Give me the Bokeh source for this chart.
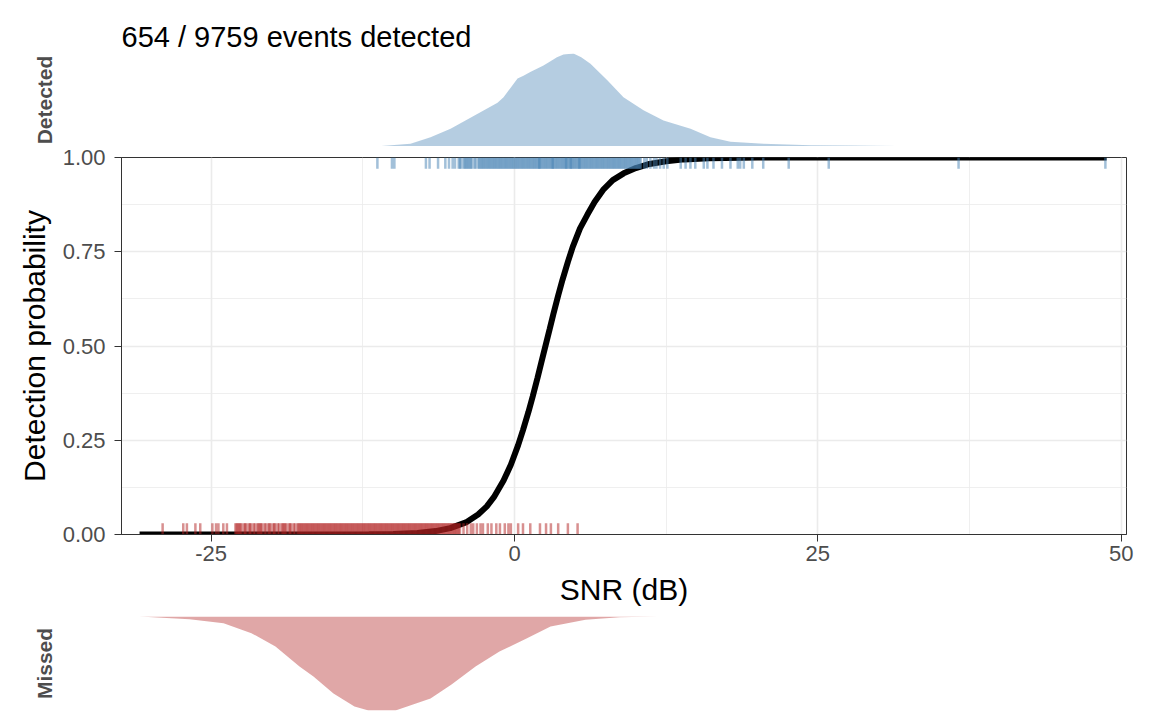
from bokeh.plotting import figure
from bokeh.layouts import column
from bokeh.models import Range1d, FixedTicker
from bokeh.embed import file_html
from bokeh.resources import INLINE

# ---------------- data ----------------
TITLE = "654 / 9759 events detected"
X_TICKS = [-25, 0, 25, 50]
X_TICK_LABELS = ["-25", "0", "25", "50"]
Y_TICKS = [0.0, 0.25, 0.5, 0.75, 1.0]
Y_TICK_LABELS = ["0.00", "0.25", "0.50", "0.75", "1.00"]

# fitted detection-probability curve
curve_x = [-30.9, -25, -20, -15, -12, -10, -8, -6.5, -5.3, -4.0, -3.0, -2.3, -1.7,
           -0.9, -0.3, 0.3, 0.7, 1.15, 1.5, 1.9, 2.2, 2.55, 2.9, 3.2, 3.6, 3.95,
           4.4, 4.8, 5.4, 6.0, 6.6, 7.3, 8.1, 9.0, 10.0, 11.0, 12.5, 14.0, 16.0,
           20.0, 30.0, 40.0, 48.8]
curve_y = [0.0, 0.0, 0.0, 0.0001, 0.0005, 0.0015, 0.004, 0.009, 0.017, 0.032, 0.053,
           0.074, 0.099, 0.143, 0.185, 0.237, 0.277, 0.325, 0.366, 0.416, 0.455, 0.5,
           0.545, 0.584, 0.634, 0.675, 0.723, 0.763, 0.812, 0.848, 0.882, 0.914,
           0.940, 0.958, 0.972, 0.982, 0.990, 0.995, 0.998, 1.0, 1.0, 1.0, 1.0]

# SNR of detected events (top rug)
detected_snr = [-11.3, -10.1, -9.9, -7.3, -7.0, -6.3, -5.7, -5.4, -5.1, -4.9,
                -4.6, -4.5, -4.4, -4.2, -4.1, -4.0, -3.9, -3.8, -3.7, -3.6, -3.5,
                -3.3, -3.2, -3.0, -2.9,
                -2.8, -2.7, -2.6, -2.5, -2.4, -2.3, -2.2, -2.1, -2.0, -1.9, -1.8,
                -1.7, -1.6, -1.5, -1.4, -1.3, -1.2, -1.1, -1.0, -0.9, -0.8, -0.7,
                -0.6, -0.5, -0.4, -0.3, -0.2, -0.1, 0.0, 0.1, 0.2, 0.3, 0.4, 0.5,
                0.6, 0.7, 0.8, 0.9, 1.0, 1.1, 1.2, 1.3, 1.4, 1.5, 1.6, 1.7, 1.8, 1.9,
                2.0, 2.05, 2.1, 2.2, 2.3, 2.4, 2.5, 2.6, 2.7, 2.8, 2.9, 3.0, 3.1,
                3.15, 3.2, 3.3, 3.4, 3.5, 3.6, 3.7, 3.8, 3.9, 4.0, 4.1, 4.2, 4.25,
                4.3, 4.4, 4.5, 4.6, 4.65, 4.7, 4.8, 4.9, 5.0, 5.1, 5.2, 5.3, 5.35,
                5.4, 5.5, 5.6, 5.7, 5.8, 5.9, 6.0, 6.1, 6.2, 6.3, 6.4, 6.5, 6.6, 6.7,
                6.8, 6.9, 7.0, 7.1, 7.2, 7.3, 7.4, 7.5, 7.6, 7.7, 7.8, 7.9, 8.0, 8.1,
                8.2, 8.3, 8.4, 8.5, 8.6, 8.7, 8.8, 8.9, 9.0, 9.1, 9.2, 9.3, 9.4, 9.5,
                9.6, 9.7, 9.8, 9.9, 10.0, 10.1, 10.2, 10.3, 10.4,
                10.7, 10.9, 11.2, 11.5, 11.7, 12.0, 12.3, 12.6,
                13.7, 14.1, 14.5, 14.9, 15.6, 15.9, 16.4, 17.1, 17.8, 18.4, 18.6, 18.9,
                19.6, 20.5, 22.6, 25.9, 36.6, 48.7]

# SNR of missed events (bottom rug)
missed_snr = [-29.0, -27.3, -27.0, -26.3, -25.9, -24.9, -24.6, -24.4, -24.0, -23.7,
              -23.0, -22.9, -22.8, -22.7, -22.6, -22.5, -22.3, -22.2, -22.1, -21.9,
              -21.8, -21.7, -21.5, -21.4, -21.2, -21.1, -21.0, -20.9, -20.8, -20.6,
              -20.5, -20.3, -20.2, -20.1, -19.9, -19.8, -19.7, -19.5, -19.4, -19.2,
              -19.1, -19.0, -18.9, -18.8, -18.6, -18.5, -18.4, -18.2, -18.1, -17.9,
              -17.8, -17.7,
              -17.6, -17.5, -17.4, -17.3, -17.2, -17.1, -17.0, -16.9, -16.8, -16.7,
              -16.6, -16.5, -16.4, -16.3, -16.2, -16.1, -16.0, -15.9, -15.8, -15.7,
              -15.6, -15.5, -15.4, -15.3, -15.2, -15.1, -15.0, -14.9, -14.8, -14.7,
              -14.6, -14.5, -14.4, -14.3, -14.2, -14.1, -14.0, -13.9, -13.8, -13.7,
              -13.6, -13.5, -13.4, -13.3, -13.2, -13.1, -13.0, -12.9, -12.8, -12.7,
              -12.6, -12.5, -12.4, -12.3, -12.2, -12.1, -12.0, -11.9, -11.8, -11.7,
              -11.6, -11.5, -11.4, -11.3, -11.2, -11.1, -11.0, -10.9, -10.8, -10.7,
              -10.6, -10.5, -10.4, -10.3, -10.2, -10.1, -10.0, -9.9, -9.8, -9.7,
              -9.6, -9.5, -9.4, -9.3, -9.2, -9.1, -9.0, -8.9, -8.8, -8.7, -8.6, -8.5,
              -8.4, -8.3, -8.2, -8.1, -8.0, -7.9, -7.8, -7.7, -7.6, -7.5, -7.4, -7.3,
              -7.2, -7.1, -7.0, -6.9, -6.8, -6.7, -6.6, -6.5, -6.4, -6.3, -6.2, -6.1,
              -6.0, -5.9, -5.8, -5.7, -5.6, -5.5, -5.4, -5.3, -5.2, -5.1, -5.0, -4.9,
              -4.8, -4.7, -4.6, -4.5,
              -4.2, -3.9, -3.6, -3.4, -3.1, -2.8, -2.6, -2.2, -1.9, -1.5, -1.2, -0.8,
              -0.5, -0.3,
              0.3, 0.7, 1.3, 2.1, 2.6, 3.0, 3.6, 4.4, 5.2]

# density of detected events (top margin)
det_dens_x = [-13.9, -11.0, -8.57, -6.92, -5.27, -3.63, -1.40, -0.9, -0.33, 0.25, 0.74,
              1.3, 2.39, 3.0, 3.5, 4.04, 4.86, 5.5, 6.26, 7.67, 8.98, 10.63, 12.28,
              14.51, 16.15, 17.8, 20.52, 24.4, 27.7, 31.8, 36.8, 40.1, 44.2, 48.7]
det_dens_y = [0.0, 0.0004, 0.0024, 0.008, 0.0152, 0.0248, 0.0376, 0.0424, 0.0504,
              0.0584, 0.0608, 0.064, 0.0696, 0.0736, 0.0768, 0.0792, 0.080, 0.0768,
              0.0712, 0.0568, 0.0424, 0.0312, 0.0224, 0.0152, 0.008, 0.004, 0.0024,
              0.001, 0.0008, 0.0004, 0.0005, 0.0002, 0.0003, 0.0003]

# density of missed events (bottom margin)
miss_dens_x = [-30.91, -26.79, -23.98, -21.68, -19.70, -17.72, -16.57, -14.92, -13.19,
               -12.03, -9.81, -6.92, -5.19, -3.21, -1.24, 0.99, 2.97, 5.85, 8.65, 11.79]
miss_dens_y = [0.0, 0.00129, 0.0032, 0.0080, 0.01436, 0.02394, 0.0287, 0.03686,
               0.04309, 0.045, 0.045, 0.03926, 0.03255, 0.02394, 0.01676, 0.01053,
               0.00479, 0.00158, 0.00034, 0.0]

# ---------------- styling ----------------
FONT = "Liberation Sans"
W = 1144
LB, RB = 121, 18
BLUE = "steelblue"
RED = "firebrick"
GRID = "#EBEBEB"
TXT = "#4D4D4D"

x_range = Range1d(-32.39, 50.44)

det_max = max(det_dens_y)
miss_max = max(miss_dens_y)


def style_margin(p, label):
    p.xaxis.visible = False
    p.grid.visible = False
    p.outline_line_color = None
    p.background_fill_color = "white"
    p.border_fill_color = "white"
    ax = p.yaxis[0]
    ax.ticker = FixedTicker(ticks=[])
    ax.axis_line_color = None
    ax.major_tick_line_color = None
    ax.minor_tick_line_color = None
    ax.major_label_text_font_size = "0px"
    ax.axis_label = label
    ax.axis_label_text_font = FONT
    ax.axis_label_text_font_size = "21px"
    ax.axis_label_text_font_style = "bold"
    ax.axis_label_text_color = TXT
    ax.axis_label_standoff = 66


# top margin: detected density
top = figure(width=W, height=146, x_range=x_range,
             y_range=Range1d(0, det_max),
             output_backend="svg", toolbar_location=None,
             min_border_left=LB, min_border_right=RB,
             min_border_top=53, min_border_bottom=0, title=TITLE)
style_margin(top, "Detected")
top.title.text_font = FONT
top.title.text_font_size = "29px"
top.title.text_font_style = "normal"
top.title.text_color = "black"
top.title.align = "left"
top.title.standoff = 2
top.varea(x=det_dens_x, y1=0, y2=det_dens_y, fill_color=BLUE, fill_alpha=0.4)

# main panel
main = figure(width=W, height=470, x_range=x_range, y_range=Range1d(0, 1),
              output_backend="svg", toolbar_location=None,
              min_border_left=LB, min_border_right=RB,
              min_border_top=11, min_border_bottom=82)
main.background_fill_color = "white"
main.border_fill_color = "white"
main.outline_line_color = "#333333"
main.outline_line_width = 1

main.xaxis.ticker = FixedTicker(ticks=X_TICKS, minor_ticks=[-37.5, -12.5, 12.5, 37.5])
main.yaxis.ticker = FixedTicker(ticks=Y_TICKS, minor_ticks=[0.125, 0.375, 0.625, 0.875])
main.xaxis.major_label_overrides = {t: s for t, s in zip(X_TICKS, X_TICK_LABELS)}
main.yaxis.major_label_overrides = {t: s for t, s in zip(Y_TICKS, Y_TICK_LABELS)}

for ax in (main.xaxis[0], main.yaxis[0]):
    ax.axis_line_color = "#333333"
    ax.major_tick_line_color = "#333333"
    ax.major_tick_out = 7
    ax.major_tick_in = 0
    ax.minor_tick_line_color = None
    ax.major_label_text_font = FONT
    ax.major_label_text_font_size = "22px"
    ax.major_label_text_color = TXT
    ax.axis_label_text_font = FONT
    ax.axis_label_text_font_size = "30px"
    ax.axis_label_text_font_style = "normal"
    ax.axis_label_text_color = "black"

main.xaxis.axis_label = "SNR (dB)"
main.yaxis.axis_label = "Detection probability"
main.xaxis.major_label_standoff = 4
main.xaxis.axis_label_standoff = 9
main.yaxis.major_label_standoff = 9
main.yaxis.axis_label_standoff = 9

main.xgrid.grid_line_color = GRID
main.ygrid.grid_line_color = GRID
main.xgrid.grid_line_width = 1.6
main.ygrid.grid_line_width = 1.6
main.xgrid.minor_grid_line_color = GRID
main.ygrid.minor_grid_line_color = GRID
main.xgrid.minor_grid_line_width = 0.8
main.ygrid.minor_grid_line_width = 0.8

main.line(curve_x, curve_y, line_color="black", line_width=6)
main.segment(x0=detected_snr, y0=1.0, x1=detected_snr, y1=0.97,
             line_color=BLUE, line_alpha=0.5, line_width=2.5)
main.segment(x0=missed_snr, y0=0.0, x1=missed_snr, y1=0.03,
             line_color=RED, line_alpha=0.5, line_width=2.5)

# bottom margin: missed density (downward)
bot = figure(width=W, height=96, x_range=x_range, y_range=Range1d(miss_max, 0),
             output_backend="svg", toolbar_location=None,
             min_border_left=LB, min_border_right=RB,
             min_border_top=0, min_border_bottom=2)
style_margin(bot, "Missed")
bot.varea(x=miss_dens_x, y1=0, y2=miss_dens_y, fill_color=RED, fill_alpha=0.4)

layout = column(top, main, bot, spacing=0)

with open("out.html", "w") as f:
    f.write(file_html(layout, INLINE))
